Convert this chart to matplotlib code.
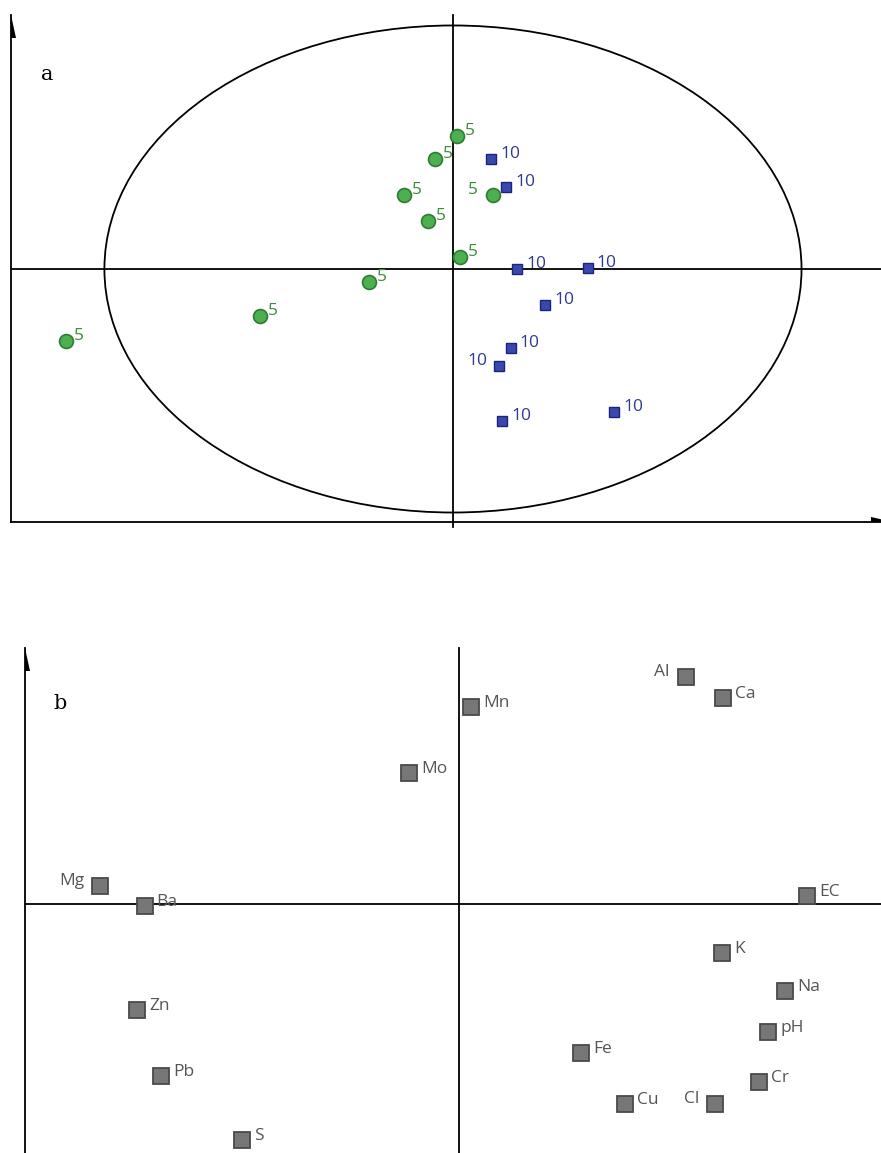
import matplotlib
matplotlib.use('Agg')
from matplotlib import pyplot as plt
from matplotlib.patches import Ellipse, Polygon

# panel a: scores (circle = group 5, square = group 10)
g5_x = [0.011, -0.052, -0.141, -0.072, 0.020, -0.241, -0.554, -1.110, 0.115]
g5_y = [0.546, 0.452, 0.304, 0.197, 0.049, -0.053, -0.193, -0.296, 0.304]
g5_left = [False, False, False, False, False, False, False, False, True]

g10_x = [0.109, 0.152, 0.184, 0.387, 0.264, 0.166, 0.132, 0.141, 0.462]
g10_y = [0.452, 0.337, 0.000, 0.004, -0.148, -0.324, -0.398, -0.624, -0.587]
g10_left = [False, False, False, False, False, False, True, False, False]

# panel b: variables
var_names = ['Al', 'Ca', 'Mn', 'Mo', 'Mg', 'Ba', 'EC', 'K', 'Na', 'pH',
             'Fe', 'Cr', 'Cu', 'Cl', 'Zn', 'Pb', 'S']
var_x = [0.651, 0.758, 0.034, -0.143, -1.030, -0.902, 0.999, 0.755, 0.936, 0.887,
         0.350, 0.861, 0.476, 0.735, -0.924, -0.855, -0.623]
var_y = [0.932, 0.846, 0.809, 0.538, 0.074, -0.008, 0.033, -0.201, -0.357, -0.526,
         -0.612, -0.731, -0.821, -0.821, -0.435, -0.706, -0.969]
var_left = ['Al', 'Mg', 'Cl']

W, H = 881, 1153
fig = plt.figure(figsize=(W / 100, H / 100), dpi=100)

label_font = 'Open Sans'


def setup_axes(ax, xlim, ylim, wpx, hpx, bottom_arrow):
    ax.set_xlim(*xlim)
    ax.set_ylim(*ylim)
    for s in ax.spines.values():
        s.set_visible(False)
    ax.set_xticks([])
    ax.set_yticks([])
    ax.patch.set_alpha(0)
    # left axis line with a half arrow head at the top
    ax.plot([0, 0], [0, 1], transform=ax.transAxes, color='black', lw=1.3, clip_on=False)
    ax.add_patch(Polygon([(0, 1), (0, 1 - 23 / hpx), (5 / wpx, 1 - 23 / hpx)],
                         closed=True, transform=ax.transAxes, color='black',
                         lw=0, clip_on=False))
    if bottom_arrow:
        ax.plot([0, 1], [0, 0], transform=ax.transAxes, color='black', lw=1.3, clip_on=False)
        ax.add_patch(Polygon([(1 + 12 / wpx, 0), (1 - 10 / wpx, 0), (1 - 10 / wpx, 5 / hpx)],
                             closed=True, transform=ax.transAxes, color='black',
                             lw=0, clip_on=False))
    ax.axhline(0, color='black', lw=1.3, zorder=1)


# ---- panel a
ax1 = fig.add_axes([11 / W, (H - 522) / H, 870 / W, (522 - 15) / H])
setup_axes(ax1, (-1.268, 1.228), (-1.039, 1.043), 870, 507, True)
ax1.plot([0, 0], [-1.058, 1.043], color='black', lw=1.3, zorder=1, clip_on=False)
ax1.add_patch(Ellipse((0, 0), 2, 2, fill=False, edgecolor='black', lw=1.3, zorder=1))

ax1.plot(g5_x, g5_y, 'o', ms=10, mfc='#4caf50', mec='#2e7d32', mew=1.2, zorder=3)
ax1.plot(g10_x, g10_y, 's', ms=7, mfc='#3949ab', mec='#1a237e', mew=1.0, zorder=3)

for x, y, left in zip(g5_x, g5_y, g5_left):
    if left:
        ax1.annotate('5', (x, y), xytext=(-15, 5), textcoords='offset pixels',
                     ha='right', va='center', color='#3d8b3d', fontsize=12.5, family=label_font)
    else:
        ax1.annotate('5', (x, y), xytext=(8, 5), textcoords='offset pixels',
                     ha='left', va='center', color='#3d8b3d', fontsize=12.5, family=label_font)
for x, y, left in zip(g10_x, g10_y, g10_left):
    if left:
        ax1.annotate('10', (x, y), xytext=(-12, 5), textcoords='offset pixels',
                     ha='right', va='center', color='#2f3a8f', fontsize=12.5, family=label_font)
    else:
        ax1.annotate('10', (x, y), xytext=(9, 5), textcoords='offset pixels',
                     ha='left', va='center', color='#2f3a8f', fontsize=12.5, family=label_font)

ax1.text(0.034, 0.882, 'a', transform=ax1.transAxes, fontsize=15,
         family='DejaVu Serif', ha='left', va='center')

# ---- panel b
ax2 = fig.add_axes([25 / W, 0, 856 / W, (H - 648) / H])
setup_axes(ax2, (-1.245, 1.211), (-1.023, 1.051), 856, 505, False)
ax2.plot([0, 0], [-1.023, 1.051], color='black', lw=1.3, zorder=1, clip_on=False)

ax2.plot(var_x, var_y, 's', ms=12, mfc='#777777', mec='#4a4a4a', mew=1.3, zorder=3)
for name, x, y in zip(var_names, var_x, var_y):
    if name in var_left:
        ax2.annotate(name, (x, y), xytext=(-16, 5), textcoords='offset pixels',
                     ha='right', va='center', color='#555555', fontsize=12.5, family=label_font)
    else:
        ax2.annotate(name, (x, y), xytext=(12, 4), textcoords='offset pixels',
                     ha='left', va='center', color='#555555', fontsize=12.5, family=label_font)

ax2.text(0.033, 0.89, 'b', transform=ax2.transAxes, fontsize=15,
         family='DejaVu Serif', ha='left', va='center')

fig.savefig('out.png', dpi=100)
